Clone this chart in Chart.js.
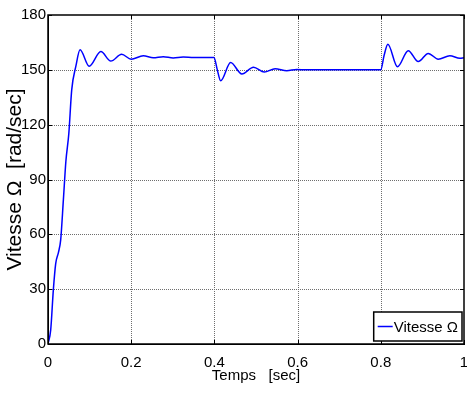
<!DOCTYPE html>
<html>
<head>
<meta charset="utf-8">
<script src="https://cdn.jsdelivr.net/npm/chart.js@4/dist/chart.umd.min.js"></script>
<style>
html,body{margin:0;padding:0;background:#fff;}
#wrap{width:467px;height:394px;position:relative;}
</style>
</head>
<body>
<div id="wrap"><canvas id="c" width="467" height="394"></canvas></div>
<script>
const seriesLabel = 'Vitesse \u03A9';
const xTitle = 'Temps   [sec]';
const yTitle = 'Vitesse \u03A9  [rad/sec]';
const time = [0, 0.0065, 0.0128, 0.0185, 0.025, 0.0305, 0.037, 0.043, 0.050, 0.057, 0.067, 0.077,
  0.099, 0.127, 0.151, 0.177, 0.200, 0.229, 0.253, 0.277, 0.301, 0.325, 0.350, 0.399,
  0.407, 0.415, 0.439, 0.466, 0.494, 0.520, 0.546, 0.574, 0.598, 0.620, 0.800,
  0.808, 0.817, 0.840, 0.866, 0.890, 0.914, 0.938, 0.966, 0.990, 1.0];
const speed = [0, 7.7, 29.5, 44, 50, 57, 79, 100, 115, 139, 152, 161,
  152, 160, 154.8, 158.5, 155.8, 157.7, 156.6, 157.2, 156.5, 157, 156.8, 156.8,
  150, 144, 154, 147.7, 151.4, 148.8, 150.6, 149.5, 150.2, 150, 150,
  158, 164, 151.7, 160.5, 154.5, 159, 155.8, 157.7, 156.3, 156.6];
const xTicks = [0, 0.2, 0.4, 0.6, 0.8, 1];
const yTicks = [0, 30, 60, 90, 120, 150, 180];

const FONT = "'Liberation Sans',Arial,sans-serif";
const FS = 15;

const gridPlugin = {
  id: 'gridPlugin',
  beforeDatasetsDraw(chart) {
    const {ctx, chartArea: a, scales} = chart;
    const L = Math.round(a.left), R = Math.round(a.right), T = Math.round(a.top), B = Math.round(a.bottom);
    ctx.save();
    ctx.fillStyle = '#6e6e6e';
    xTicks.forEach(v => {
      const x = Math.round(scales.x.getPixelForValue(v));
      if (x <= L + 1 || x >= R - 1) return;
      for (let y = T; y < B; y += 2) ctx.fillRect(x, y, 1, 1);
    });
    yTicks.forEach(v => {
      const y = Math.round(scales.y.getPixelForValue(v));
      if (y <= T + 1 || y >= B - 1) return;
      for (let x = L; x < R; x += 2) ctx.fillRect(x, y, 1, 1);
    });
    ctx.restore();
  },
  afterDraw(chart) {
    const {ctx, chartArea: a, scales} = chart;
    ctx.save();
    ctx.strokeStyle = '#000';
    ctx.lineWidth = 1;
    const tl = 4;
    ctx.beginPath();
    xTicks.forEach(v => {
      const x = Math.round(scales.x.getPixelForValue(v)) + 0.5;
      ctx.moveTo(x, a.bottom); ctx.lineTo(x, a.bottom - tl);
      ctx.moveTo(x, a.top); ctx.lineTo(x, a.top + tl);
    });
    yTicks.forEach(v => {
      const y = Math.round(scales.y.getPixelForValue(v)) + 0.5;
      ctx.moveTo(a.left, y); ctx.lineTo(a.left + tl, y);
      ctx.moveTo(a.right, y); ctx.lineTo(a.right - tl, y);
    });
    ctx.stroke();
    ctx.lineWidth = 1.5;
    ctx.strokeRect(a.left, a.top, a.right - a.left, a.bottom - a.top);
    // legend box
    const label = chart.data.datasets[0].label;
    ctx.font = FS + 'px ' + FONT;
    const tw = ctx.measureText(label).width;
    const bw = tw + 24, bh = 29;
    const bx = a.right - 2 - bw, by = a.bottom - 3 - bh;
    ctx.fillStyle = '#fff';
    ctx.fillRect(bx, by, bw, bh);
    ctx.lineWidth = 1.5;
    ctx.strokeStyle = '#000';
    ctx.strokeRect(bx, by, bw, bh);
    ctx.strokeStyle = '#0000ff';
    ctx.lineWidth = 1.5;
    ctx.beginPath();
    ctx.moveTo(bx + 4, by + bh / 2); ctx.lineTo(bx + 19, by + bh / 2);
    ctx.stroke();
    ctx.fillStyle = '#000';
    ctx.textBaseline = 'middle';
    ctx.fillText(label, bx + 20, by + bh / 2 + 1);
    ctx.restore();
  }
};

new Chart(document.getElementById('c'), {
  type: 'line',
  data: {
    datasets: [{
      label: seriesLabel,
      data: time.map((t, i) => ({x: t, y: speed[i]})),
      borderColor: '#0000ff',
      borderWidth: 1.5,
      pointRadius: 0,
      fill: false,
      cubicInterpolationMode: 'monotone'
    }]
  },
  options: {
    responsive: false,
    animation: false,
    layout: {padding: {left: 0, top: 15, right: 3, bottom: 0}},
    plugins: {legend: {display: false}, tooltip: {enabled: false}},
    scales: {
      x: {
        type: 'linear', min: 0, max: 1,
        afterBuildTicks: s => { s.ticks = xTicks.map(v => ({value: v})); },
        afterFit: s => { s.height = 50; s.paddingLeft = 0; s.paddingRight = 0; },
        grid: {display: false, drawTicks: false},
        border: {display: true, color: '#000', width: 1},
        ticks: {color: '#000', font: {family: FONT, size: FS}, padding: 10, maxRotation: 0,
          callback: v => String(v)},
        title: {display: true, text: xTitle, color: '#000', font: {family: FONT, size: FS}, padding: {top: 0, bottom: 9}}
      },
      y: {
        min: 0, max: 180,
        afterBuildTicks: s => { s.ticks = yTicks.map(v => ({value: v})); },
        afterFit: s => { s.width = 48; s.paddingTop = 0; s.paddingBottom = 0; },
        grid: {display: false, drawTicks: false},
        border: {display: true, color: '#000', width: 1},
        ticks: {color: '#000', font: {family: FONT, size: FS}, padding: 2,
          callback: v => String(v)},
        title: {display: true, text: yTitle, color: '#000', font: {family: FONT, size: 21}, padding: {top: 3, bottom: 0}}
      }
    }
  },
  plugins: [gridPlugin]
});
</script>
</body>
</html>
